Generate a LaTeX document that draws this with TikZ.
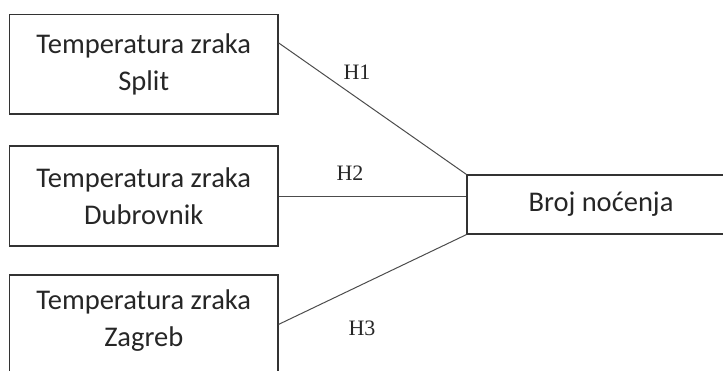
\documentclass[tikz,border=0pt]{standalone}
\usepackage{fontspec}
\setmainfont{Carlito}
\newfontfamily\labelfont{Liberation Serif}
\usetikzlibrary{calc}
\begin{document}
\begin{tikzpicture}[x=1pt,y=-1pt,
  box/.style={draw=black!80,line width=1.2pt,align=center,inner sep=0pt,
    font=\fontsize{28.5}{37}\selectfont,text=black!85},
  link/.style={draw=black!70,line width=1pt},
  hlabel/.style={font=\labelfont\fontsize{22}{24}\selectfont,text=black!85,inner sep=0pt}]
\clip (0,0) rectangle (723,370);
\useasboundingbox (0,0) rectangle (723,370);
\node[box,minimum width=268.5pt,minimum height=99.5pt] (b1) at (143.75,64.25) {Temperatura zraka\\Split};
\node[box,minimum width=268.5pt,minimum height=100pt] (b2) at (143.75,196) {Temperatura zraka\\Dubrovnik};
\node[box,minimum width=268.5pt,minimum height=100pt,text height=0pt] (b3) at (143.75,325) {};
\node[font=\fontsize{28.5}{37}\selectfont,text=black!85,align=center] (t3) at (143.75,321) {Temperatura zraka\\Zagreb};
\node[box,minimum width=268pt,minimum height=59pt] (r) at (601,204.5) {Broj noćenja};
\coordinate (s1) at ($(b1.north east)+(0,29)$);
\coordinate (s3) at ($(b3.north east)+(0,50)$);
\draw[link] (s1) -- (r.north west);
\draw[link] (b2.east) -- (b2.east -| r.west);
\draw[link] (s3) -- (r.south west);
\node[hlabel] (h1) at (357,72) {H1};
\node[hlabel] (h2) at (350,173) {H2};
\node[hlabel] (h3) at (362,328) {H3};
\end{tikzpicture}
\end{document}
